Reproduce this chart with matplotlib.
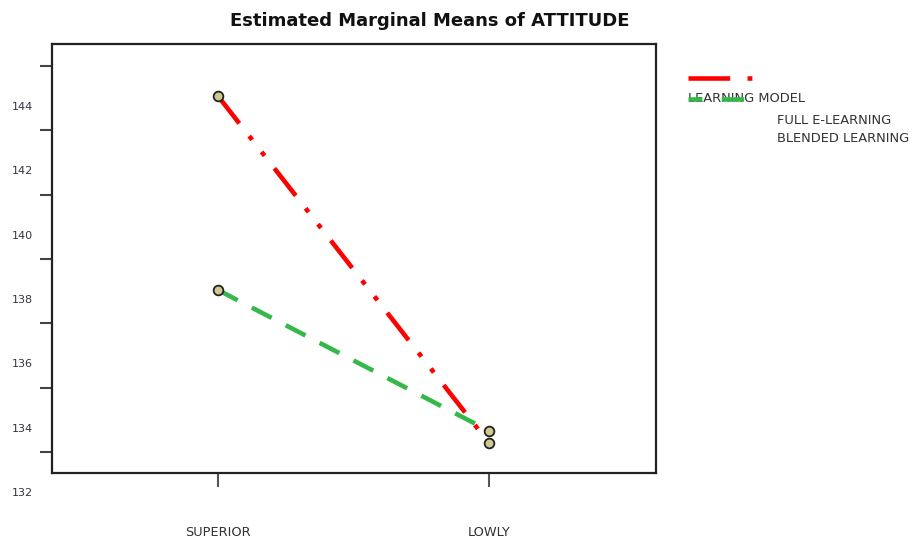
import matplotlib
matplotlib.use("Agg")
import matplotlib.pyplot as plt
from matplotlib.lines import Line2D
import matplotlib.transforms as mtransforms

plt.rcParams["font.family"] = ["DejaVu Sans"]
plt.rcParams["lines.scale_dashes"] = False

# data
categories = ["SUPERIOR", "LOWLY"]
full_elearning = [144.34, 133.55]
blended = [138.31, 133.93]
ytick_labels = [144, 142, 140, 138, 136, 134, 132]
tick_offset = 1.27  # tick marks sit off the printed labels in the original

fig = plt.figure(figsize=(9.15, 5.41), dpi=100)
ax = fig.add_axes([0.0568, 0.1257, 0.6601, 0.7930])

x = list(range(len(categories)))
ax.plot(x, full_elearning, color="#ff0000", lw=3.3,
        linestyle=(0, (25, 11.5, 3.5, 11, 3.5, 11.5)), dash_capstyle="butt",
        zorder=2)
ax.plot(x, blended, color="#35b84a", lw=3.3,
        linestyle=(0, (16, 11.5)), dash_capstyle="butt", zorder=2)
for ys in (full_elearning, blended):
    ax.plot(x, ys, linestyle="none", marker="o", ms=7,
            mfc="#cfc892", mec="#222222", mew=1.3, zorder=3)

ax.set_xlim(-0.6125, 1.616)
ax.set_ylim(132.62, 145.96)

ax.set_xticks(x)
ax.set_xticklabels(categories, fontsize=9.3, color="#333333")
ax.tick_params(axis="x", length=10, width=1.5, color="#555555", pad=28.5)

ax.set_yticks([v + tick_offset for v in ytick_labels])
ax.set_yticklabels([])
ax.tick_params(axis="y", length=8.6, width=1.5, color="#444444")

trans = mtransforms.blended_transform_factory(ax.transAxes, ax.transData)
for v in ytick_labels:
    ax.text(-0.0497, v, str(v), transform=trans, ha="center", va="center",
            fontsize=8, color="#333344", clip_on=False)

for sp in ax.spines.values():
    sp.set_linewidth(1.6)
    sp.set_color("#222222")

fig.text(430 / 915, 1 - 21 / 541, "Estimated Marginal Means of ATTITUDE",
         ha="center", va="center", fontsize=13, fontweight="bold",
         color="#111111")

# legend, drawn by hand like the original layout
def px(xp, yp):
    return xp / 915, 1 - yp / 541

fig.text(*px(688, 99), "LEARNING MODEL", ha="left", va="center",
         fontsize=9.4, color="#333333")
fig.text(*px(777, 120), "FULL E-LEARNING", ha="left", va="center",
         fontsize=9.4, color="#333333")
fig.text(*px(777, 139), "BLENDED LEARNING", ha="left", va="center",
         fontsize=9.4, color="#333333")

x0, y0 = px(688, 78)
x1, _ = px(752, 78)
fig.add_artist(Line2D([x0, x1], [y0, y0], color="#ff0000", lw=3.3,
                      linestyle=(0, (30, 12.5, 3.5, 20)),
                      dash_capstyle="butt", transform=fig.transFigure))
x0, y0 = px(688, 99)
x1, _ = px(746, 99)
fig.add_artist(Line2D([x0, x1], [y0, y0], color="#35b84a", lw=3.3,
                      linestyle=(0, (10, 14, 16, 5)),
                      dash_capstyle="butt", transform=fig.transFigure,
                      zorder=5))

fig.savefig("out.png", dpi=100)
